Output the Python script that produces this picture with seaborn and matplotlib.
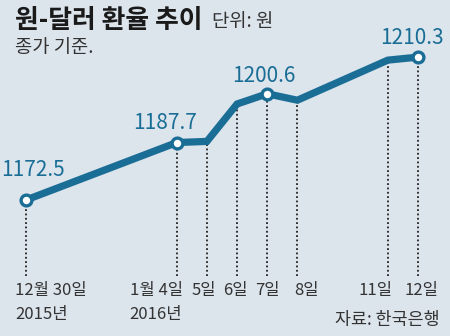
import matplotlib
matplotlib.use("Agg")
import matplotlib.pyplot as plt
import seaborn as sns
import pandas as pd

dates = ["2015-12-30", "2016-01-04", "2016-01-05", "2016-01-06",
         "2016-01-07", "2016-01-08", "2016-01-11", "2016-01-12"]
rates = [1172.5, 1187.7, 1188.0, 1197.9, 1200.6, 1198.9, 1209.5, 1210.3]
day_labels = ["12월 30일", "1월 4일", "5일", "6일", "7일", "8일", "11일", "12일"]
year_labels = ["2015년", "2016년", "", "", "", "", "", ""]
highlight = [True, True, False, False, True, False, False, True]

title = "원-달러 환율 추이"
unit = "단위: 원"
note = "종가 기준."
source = "자료: 한국은행"

sns.set_style("white")
plt.rcParams["font.family"] = ["Noto Sans CJK KR", "DejaVu Sans"]

BG = "#dce4ec"
LINE = "#1a6e96"
TXT = "#333333"

d = pd.to_datetime(pd.Series(dates))
df = pd.DataFrame({"day": (d - d.iloc[0]).dt.days, "rate": rates,
                   "hl": highlight})

fig = plt.figure(figsize=(4.5, 3.36), dpi=100, facecolor=BG)
ax = fig.add_axes([0, 0, 1, 1])
ax.set_facecolor(BG)

# pixel mapping: x px = 26 + 30.15*day ; y px = 200 - 3.78*(rate-1172.5)
ax.set_xlim(-26 / 30.15, (450 - 26) / 30.15)
ax.set_ylim(1172.5 - 136 / 3.78, 1172.5 + 200 / 3.78)
ymin_line = 1172.5 - 76 / 3.78

ax.vlines(df["day"], ymin_line, df["rate"], colors="#222222",
          linestyles=(0, (1, 1.4)), linewidth=1.3, zorder=1)

sns.lineplot(data=df, x="day", y="rate", ax=ax, color=LINE, linewidth=5.2,
             zorder=2, solid_capstyle="butt", solid_joinstyle="miter")
sns.scatterplot(data=df[df["hl"]], x="day", y="rate", ax=ax, s=60,
                color="white", edgecolor=LINE, linewidth=2.4, zorder=3)

# value labels (pixel offsets from their points)
val_offsets = [(7, 30), (-12, 20), (-3, 18), (-6, 19)]
for (_, r), off in zip(df[df["hl"]].iterrows(), val_offsets):
    ax.annotate(f"{r['rate']:.1f}", (r["day"], r["rate"]),
                xytext=off, textcoords="offset pixels",
                ha="center", va="center", fontsize=15, color=LINE)

# date labels (offset in pixels from each date line)
offsets = [-11, -47, -3, -2, 0, 9, -12, 4]
aligns = ["left", "left", "center", "center", "center", "center", "center", "center"]
for (_, r), lab, yr, off, al in zip(df.iterrows(), day_labels, year_labels, offsets, aligns):
    ax.annotate(lab, (r["day"], ymin_line), xytext=(off, -15),
                textcoords="offset pixels", ha=al, va="center",
                fontsize=12, color=TXT)
    if yr:
        ax.annotate(yr, (r["day"], ymin_line), xytext=(off, -38),
                    textcoords="offset pixels", ha=al, va="center",
                    fontsize=12, color=TXT)

fig.text(15 / 450, 1 - 20 / 336, title, fontsize=18.6, fontweight="bold",
         color="#1a1a1a", ha="left", va="center")
fig.text(212 / 450, 1 - 21 / 336, unit, fontsize=13.5, color=TXT,
         ha="left", va="center")
fig.text(15 / 450, 1 - 48 / 336, note, fontsize=13.5, color=TXT,
         ha="left", va="center")
fig.text(440 / 450, 1 - 320 / 336, source, fontsize=12.5, color=TXT,
         ha="right", va="center")

ax.set_axis_off()
fig.savefig("out.png", dpi=100, facecolor=BG)
